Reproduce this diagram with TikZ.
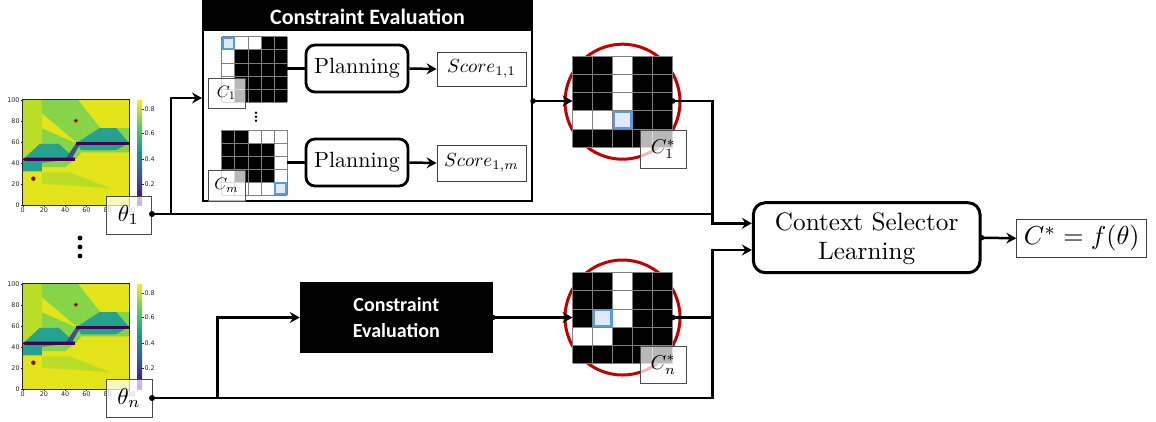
\documentclass[tikz,border=0pt]{standalone}
\usepackage{graphicx}
\usepackage{fontspec}
\newfontfamily\calib{Carlito}
\newfontfamily\tickf{DejaVu Sans}
\usetikzlibrary{arrows.meta,calc,shapes.geometric}
\definecolor{vy}{HTML}{E3E41A}
\definecolor{vyg}{HTML}{BADE28}
\definecolor{vg}{HTML}{86D549}
\definecolor{vt}{HTML}{25A18E}
\definecolor{vb}{HTML}{3B528B}
\definecolor{vtb}{HTML}{21918C}
\definecolor{vg2}{HTML}{5EC962}
\definecolor{vyy}{HTML}{FDE725}
\definecolor{vp}{HTML}{440154}
\definecolor{cred}{HTML}{C00000}
\definecolor{cblue}{HTML}{5B9BD5}
\definecolor{cbluef}{HTML}{DEEBF7}
\definecolor{markred}{HTML}{8B0000}

\newcommand{\hmapdraw}{%
  \fill[vy] (0,0) rectangle (100,100);
  \fill[vyg] (0,32) rectangle (18,100);
  \fill[vg] (18,100) -- (52,100) -- (73,73) -- (100,73) -- (100,50) -- (55,50) -- (50,44) -- (40,36) -- (18,36) -- cycle;
  \fill[vy] (18,87) -- (52,58) -- (18,73) -- cycle;
  \fill[vyg] (18,31) -- (45,31) -- (82,16) -- (18,20) -- cycle;
  \fill[vt] (0,43) -- (16,58) -- (34,58) -- (49,44) -- (18,40) -- (18,32) -- (0,32) -- cycle;
  \fill[vt] (51,59) -- (72,73) -- (88,73) -- (100,59) -- (88,52) -- (55,52) -- cycle;
  \fill[vb] (41,45) -- (50,58) -- (54,58) -- (46,44) -- cycle;
  \fill[vp] (0,43.5) -- (2,45) -- (49,45) -- (49,42) -- (2,42) -- cycle;
  \fill[vp] (50,57) -- (100,57) -- (100,60) -- (50,60) -- cycle;
  \node[star, star points=5, star point ratio=2.2, fill=markred, inner sep=0pt, minimum size=5pt] at (50,80) {};
  \fill[markred] (10,25) circle (2.2pt);
  \draw[line width=0.5pt, black!85] (0,0) rectangle (100,100);
  \foreach \v in {0,20,...,100} {
    \draw[line width=0.4pt, black!85] (\v,0) -- (\v,-2);
    \draw[line width=0.4pt, black!85] (0,\v) -- (-2,\v);
    \node[tick, anchor=east] at (-2,\v) {\v};
    \node[tick, anchor=north] at (\v,-2) {\v};
  }
}
\newcommand{\cbardraw}{%
  \shade[bottom color=vp, top color=vb] (137,205) rectangle (142,178.75);
  \shade[bottom color=vb, top color=vtb] (137,178.75) rectangle (142,152.5);
  \shade[bottom color=vtb, top color=vg2] (137,152.5) rectangle (142,126.25);
  \shade[bottom color=vg2, top color=vyy] (137,126.25) rectangle (142,100);
  \foreach \yy/\t in {109/0.8,133.5/0.6,159/0.4,184/0.2} {
    \draw[line width=0.4pt, black!85] (142,\yy) -- (144,\yy);
    \node[tick, anchor=west] at (143.5,\yy) {\t};
  }
}
\newcommand{\mygrid}[6]{%
  \fill[white] (#1,#2) rectangle ++(5*#3,5*#4);
  \foreach \c/\r in {#5} \fill[black] ({#1+\c*#3},{#2+\r*#4}) rectangle ++(#3,#4);
  \foreach \i in {0,...,5} {
    \draw[gridline] ({#1+\i*#3},#2) -- ++(0,5*#4);
    \draw[gridline] (#1,{#2+\i*#4}) -- ++(5*#3,0);
  }
  \foreach \c/\r in {#6} \draw[bluecell] ({#1+\c*#3+1.2},{#2+\r*#4+1.2}) rectangle ++(#3-2.4,#4-2.4);
}
\newcommand{\mth}[2]{\scalebox{#1}{$#2$}}

\begin{document}
\begin{tikzpicture}[x=1pt,y=-1pt,
  tick/.style={font=\tickf\fontsize{6.4}{7}\selectfont, text=black!85, inner sep=0.8pt},
  gridline/.style={line width=0.7pt, black!50},
  bluecell/.style={fill=cbluef, draw=cblue, line width=2.2pt},
  conn/.style={line width=2.5pt, black},
  arr/.style={conn, -{Stealth[length=10pt,width=11pt,inset=3.5pt]}},
  dot/.style={circle, fill=black, inner sep=0pt, minimum size=6pt},
  sdot/.style={circle, fill=black, inner sep=0pt, minimum size=5.5pt},
  lab/.style={draw=black!70, line width=0.9pt, fill=white, fill opacity=0.72, text opacity=1, inner sep=0pt},
  plan/.style={draw, line width=2.8pt, rounded corners=9pt, minimum width=102pt, minimum height=47pt},
  scorebox/.style={draw=black!75, line width=0.9pt, minimum width=89pt, inner sep=0pt},
  bb/.style={fill=black, text=white, font=\calib\bfseries\fontsize{20}{26.7}\selectfont, align=center}
]
\useasboundingbox (0,0) rectangle (1156,421);

% ---------- heat maps ----------
\begin{scope}[shift={(22.7,205)}, x=1.063pt, y=1.053pt]
  \hmapdraw
\end{scope}
\cbardraw
\begin{scope}[shift={(22.7,389)}, x=1.063pt, y=1.053pt]
  \hmapdraw
\end{scope}
\begin{scope}[shift={(0,184)}]
  \cbardraw
\end{scope}

\node[lab, minimum width=45pt, minimum height=38pt] (t1) at (128.5,215) {\mth{2.3}{\theta_1}};
\node[lab, minimum width=46pt, minimum height=38pt] (tn) at (129,398) {\mth{2.3}{\theta_n}};
\foreach \yy in {238,247,256} \fill (80,\yy) circle (2.4pt);

% ---------- Constraint evaluation (detailed) ----------
\node[draw, line width=2pt, minimum width=329pt, minimum height=200pt, inner sep=0pt] (ce) at (367.5,101) {};
\fill[black] (ce.north west) rectangle ($(ce.north east)+(0,31)$);
\node[font=\calib\bfseries\fontsize{22}{24}\selectfont, text=white] (hdr) at (367.5,17) {Constraint Evaluation};

\mygrid{221.7}{36.7}{13.1}{13.1}{3/0,4/0,1/1,2/1,3/1,4/1,1/2,2/2,3/2,4/2,1/3,2/3,3/3,4/3,1/4,2/4,3/4,4/4}{0/0}
\node[inner sep=0pt, minimum width=65.5pt, minimum height=65.5pt] (g1) at (254.45,69.45) {};
\node[lab, minimum width=37pt, minimum height=30pt] (l1) at (226.5,93) {\mth{1.65}{C_1}};

\mygrid{221.7}{130}{13.1}{13}{0/0,1/0,0/1,1/1,2/1,3/1,0/2,1/2,2/2,3/2,1/3,2/3,3/3}{4/4}
\node[inner sep=0pt, minimum width=65.5pt, minimum height=65pt] (gm) at (254.45,162.5) {};
\node[lab, minimum width=37pt, minimum height=31pt] (lm) at (226.5,185.5) {\mth{1.65}{C_m}};

\foreach \yy in {112.7,116.7,120.7} \fill (256,\yy) circle (1.3pt);

\node[plan] (p1) at (357,68.5) {\scalebox{2.2}{Planning}};
\node[plan] (pm) at (357,162.5) {\scalebox{2.2}{Planning}};
\node[scorebox, minimum height=34pt] (s1) at (481.5,69) {\mth{1.9}{Score_{1,1}}};
\node[scorebox, minimum height=36pt] (sm) at (481.5,163) {\mth{1.9}{Score_{1,m}}};

\draw[conn] (g1.east |- p1.west) -- (p1.west);
\draw[conn] (gm.east |- pm.west) -- (pm.west);
\draw[arr] (p1.east) -- (s1.west);
\draw[arr] (pm.east) -- (sm.west);

% ---------- selected contexts ----------
\draw[cred, line width=3pt] (622.5,101.7) circle (57.5pt);
\mygrid{572.7}{56}{20}{18.27}{0/0,1/0,3/0,4/0,0/1,1/1,3/1,4/1,0/2,1/2,3/2,4/2,3/3,4/3,0/4,1/4,2/4,3/4,4/4}{2/3}
\node[inner sep=0pt, minimum width=100pt, minimum height=91.35pt] (g1s) at (622.7,101.7) {};
\node[lab, minimum width=46.7pt, minimum height=38.3pt] (l1s) at (663.3,149.2) {\mth{2.0}{C_1^*}};

\draw[cred, line width=3pt] (622.5,317.5) circle (57.5pt);
\mygrid{572.7}{272.7}{20}{18.13}{0/0,1/0,3/0,4/0,0/1,1/1,3/1,4/1,0/2,3/2,4/2,2/3,3/3,4/3,0/4,1/4,2/4,3/4,4/4}{1/2}
\node[inner sep=0pt, minimum width=100pt, minimum height=90.65pt] (gns) at (622.7,318) {};
\node[lab, minimum width=46.7pt, minimum height=37.3pt] (lns) at (663.3,364.7) {\mth{2.0}{C_n^*}};

% ---------- compact constraint evaluation ----------
\node[bb, minimum width=192.7pt, minimum height=71.6pt] (ce2) at (396.3,317.5) {Constraint\\Evaluation};

% ---------- context selector ----------
\node[draw, line width=3pt, rounded corners=12pt, minimum width=226.7pt, minimum height=70pt] (csl) at (866.7,237.7) {};
\node[anchor=base, inner sep=0pt] (cslA) at (866.7,230.5) {\scalebox{2.52}{Context Selector}};
\node[anchor=base, inner sep=0pt] (cslB) at (866.7,259.3) {\scalebox{2.52}{Learning}};
\node[draw=black!75, line width=0.9pt, minimum width=130pt, minimum height=38pt, inner sep=0pt] (out) at (1081.7,238.3) {\mth{2.6}{C^*=f(\theta)}};

% ---------- connectors ----------
\coordinate (d1) at (152,214);
\coordinate (dn) at (152,398);
\coordinate (j1) at (171,98);
\coordinate (jn) at (217.3,317.5);
\coordinate (ca) at (712.7,223.3);
\coordinate (cb) at (712.7,250);

\draw[arr] (d1) -| (j1) -- (ce.west |- j1);
\draw[conn] (d1) -- (d1 -| ca);
\draw[arr] (g1s.east |- ce.east) -| (ca) -- (csl.west |- ca);
\draw[arr] (ce.east) -- (g1s.west |- ce.east);

\draw[arr] (dn) -| (jn) -- (ce2.west);
\draw[arr] (dn) -| (cb) -- (csl.west |- cb);
\draw[arr] (ce2.east) -- (gns.west |- ce2.east);
\draw[conn] (gns.east |- ce2.east) -- (ce2.east -| ca);

\draw[arr] (csl.east) -- (out.west);

\node[dot] at (d1) {};
\node[dot] at (dn) {};
\node[sdot] at (ce.east) {};
\node[sdot] at (g1s.east |- ce.east) {};
\node[sdot] at (ce2.east) {};
\node[sdot] at (gns.east |- ce2.east) {};
\node[sdot] at (csl.east) {};
\end{tikzpicture}
\end{document}
